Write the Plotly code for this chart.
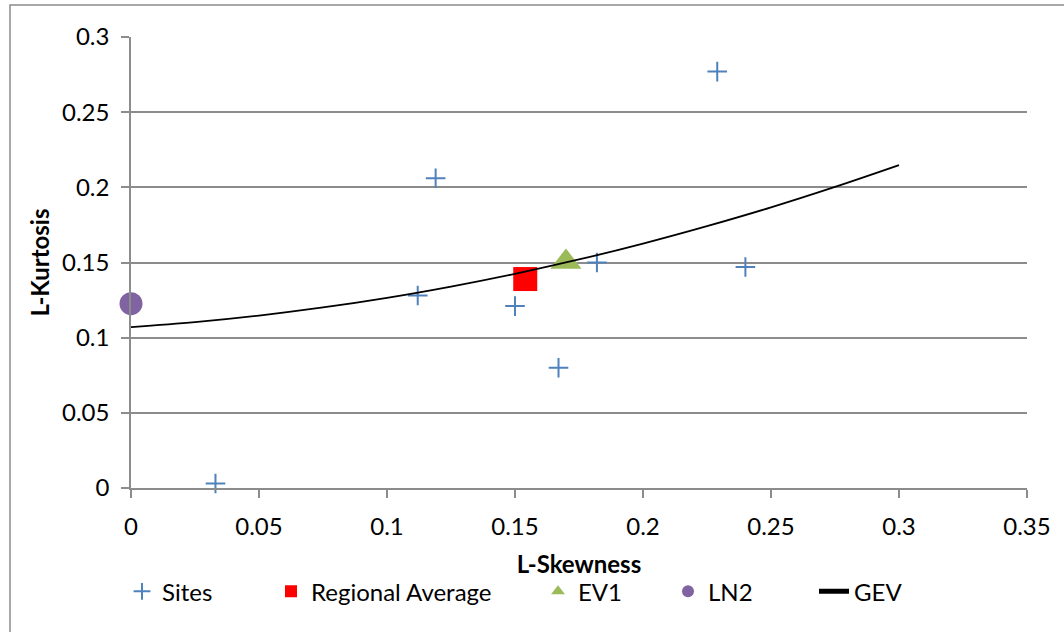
import plotly.graph_objects as go

# L-moment ratios of the individual sites
site_skew = [0.033, 0.112, 0.119, 0.150, 0.167, 0.182, 0.229, 0.240]
site_kurt = [0.003, 0.128, 0.206, 0.121, 0.080, 0.150, 0.277, 0.147]

# Regional weighted average
reg_skew = [0.154]
reg_kurt = [0.139]

# Two-parameter distributions
ev1_skew = [0.1699]
ev1_kurt = [0.1504]
ln2_skew = [0.0]
ln2_kurt = [0.1226]

# GEV L-moment ratio curve
gev_skew = [0.0, 0.025, 0.05, 0.075, 0.1, 0.125, 0.15, 0.175, 0.2, 0.225, 0.25, 0.275, 0.3]
gev_kurt = [0.1070, 0.1103, 0.1147, 0.1201, 0.1265, 0.1340, 0.1425, 0.1520, 0.1626,
            0.1742, 0.1867, 0.2003, 0.2148]

x_ticks = [0, 0.05, 0.1, 0.15, 0.2, 0.25, 0.3, 0.35]
y_ticks = [0, 0.05, 0.1, 0.15, 0.2, 0.25, 0.3]

FONT = "Lato"
FS = 24
GRID = "#8c8c8c"

fig = go.Figure()

fig.add_trace(go.Scatter(
    x=site_skew, y=site_kurt, mode="markers", name="Sites", legend="legend",
    marker=dict(symbol="cross-thin", size=14, color="#4F81BD",
                line=dict(color="#4F81BD", width=2)),
    cliponaxis=False,
))
fig.add_trace(go.Scatter(
    x=reg_skew, y=reg_kurt, mode="markers", name="Regional Average", legend="legend2",
    marker=dict(symbol="square", size=24, color="#FF0000"),
    cliponaxis=False,
))
fig.add_trace(go.Scatter(
    x=ev1_skew, y=ev1_kurt, mode="markers", name="EV1", legend="legend3",
    marker=dict(symbol="triangle-up", size=27, color="#9BBB59"),
    cliponaxis=False,
))
fig.add_trace(go.Scatter(
    x=ln2_skew, y=ln2_kurt, mode="markers", name="LN2", legend="legend4",
    marker=dict(symbol="circle", size=23, color="#8064A2"),
    cliponaxis=False,
))
fig.add_trace(go.Scatter(
    x=gev_skew, y=gev_kurt, mode="lines", name="GEV", legend="legend5",
    line=dict(color="#000000", width=1.8, shape="spline"),
))


def legend_at(px):
    # legend box placed by its left edge, in pixels from the figure's left
    return dict(
        orientation="h", x=(px - 131) / 896, y=-0.18, xanchor="left", yanchor="top",
        font=dict(family=FONT, size=FS, color="#000000"),
        itemsizing="constant", bgcolor="rgba(0,0,0,0)",
    )


fig.update_layout(
    width=1064, height=632,
    margin=dict(l=131, r=37, t=37, b=144),
    paper_bgcolor="white", plot_bgcolor="white",
    font=dict(family=FONT, size=FS, color="#000000"),
    showlegend=True,
    legend=legend_at(122),
    legend2=legend_at(271),
    legend3=legend_at(538),
    legend4=legend_at(668),
    legend5=legend_at(814),
    shapes=[dict(
        type="rect", xref="paper", yref="paper",
        x0=(10 - 131) / 896, x1=1.2, y0=-0.5, y1=1 + 32 / 451,
        line=dict(color="#8c8c8c", width=1.5), layer="below",
    )],
)

fig.update_xaxes(
    range=[0, 0.35], tickvals=x_ticks, ticktext=[f"{v:g}" for v in x_ticks],
    showgrid=False, zeroline=False,
    showline=True, linecolor=GRID, linewidth=1.5,
    ticks="outside", ticklen=8, tickcolor=GRID, tickwidth=1.5,
    ticklabelstandoff=8,
    title=dict(text="<b>L-Skewness</b>", standoff=18,
               font=dict(family=FONT, size=FS)),
)
fig.update_yaxes(
    range=[0, 0.3], tickvals=y_ticks, ticktext=[f"{v:g}" for v in y_ticks],
    showgrid=True, gridcolor=GRID, gridwidth=1.5, zeroline=False,
    showline=True, linecolor=GRID, linewidth=1.5,
    ticks="outside", ticklen=8, tickcolor=GRID, tickwidth=1.5,
    ticklabelstandoff=7,
    title=dict(text="<b>L-Kurtosis</b>", standoff=6,
               font=dict(family=FONT, size=FS)),
)

fig.write_html("out.html")
